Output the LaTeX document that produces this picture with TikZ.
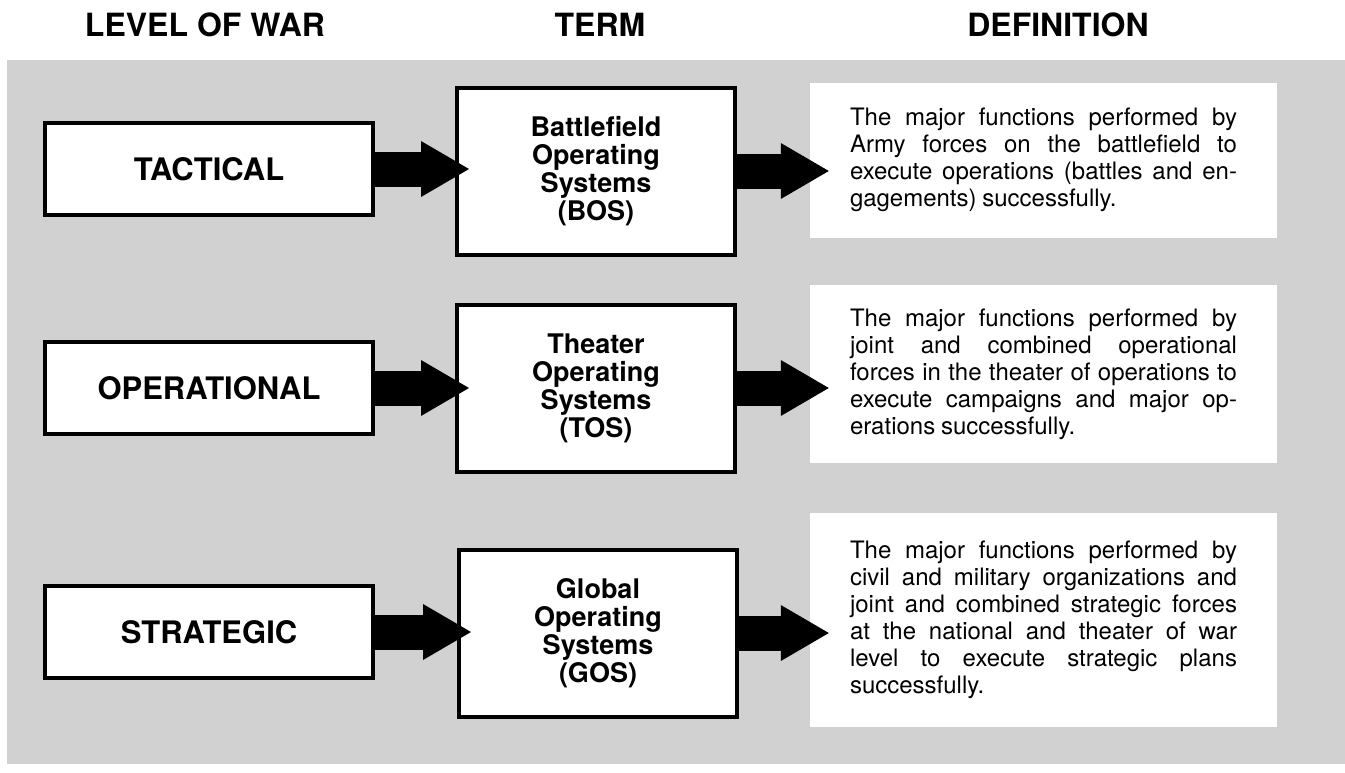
\documentclass[tikz,border=0pt]{standalone}
\usepackage{fontspec}
\setmainfont{TeX Gyre Heros}
\usetikzlibrary{arrows.meta,patterns}

\definecolor{screen}{gray}{0.82}
\tolerance=10000
\hyphenpenalty=10000
\newcommand\defspacing{\spaceskip=0.24em plus 1em minus 0.04em\relax}

\begin{document}
\begin{tikzpicture}[x=1pt, y=-1pt,
    heading/.style={font=\fontsize{32}{34}\selectfont\bfseries},
    levelbox/.style={draw, line width=4pt, fill=white, minimum width=328pt,
        minimum height=92pt, font=\fontsize{31}{33}\selectfont\bfseries},
    termbox/.style={draw, line width=4pt, fill=white, minimum width=278pt,
        minimum height=167pt, align=center, font=\fontsize{27}{28}\selectfont\bfseries},
    defpanel/.style={fill=white, text width=387pt, inner xsep=40pt, inner ysep=0pt,
        align=justify, font=\fontsize{24}{27}\selectfont\defspacing},
    fatarrow/.style={line width=35pt, -{Triangle[length=48pt, width=56pt, line width=0pt]}}]

    \useasboundingbox (0,0) rectangle (1345,772);
    \fill[screen] (7,60) rectangle (1345,764);

    % column headings
    \node[heading] (hlevel) at (205,25) {LEVEL OF WAR};
    \node[heading] (hterm) at (600,25) {TERM};
    \node[heading] (hdef) at (1058,25) {DEFINITION};

    % definitions
    \node[defpanel, minimum height=155pt] (def1) at (1043.5,160) {The major functions performed by\linebreak
        Army forces on the battlefield to\linebreak
        execute operations (battles and en-\linebreak
        gagements) successfully.};
    \node[defpanel, minimum height=178pt] (def2) at (1043.5,374) {The major functions performed by\linebreak
        joint and combined operational\linebreak
        forces in the theater of operations to\linebreak
        execute campaigns and major op-\linebreak
        erations successfully.};
    \node[defpanel, minimum height=214pt] (def3) at (1043.5,620) {The major functions performed by\linebreak
        civil and military organizations and\linebreak
        joint and combined strategic forces\linebreak
        at the national and theater of war\linebreak
        level to execute strategic plans\linebreak
        successfully.};

    % levels and terms
    \node[levelbox] (tac) at (209,169) {TACTICAL};
    \node[levelbox] (opl) at (209,388) {OPERATIONAL};
    \node[levelbox] (stra) at (209,632) {STRATEGIC};

    \node[termbox] (bos) at (596,171) {Battlefield\\Operating\\Systems\\(BOS)};
    \node[termbox] (tos) at (596,388) {Theater\\Operating\\Systems\\(TOS)};
    \node[termbox] (gos) at (598,633) {Global\\Operating\\Systems\\(GOS)};

    \draw[fatarrow, shorten >=-14pt] (tac.east) -- (tac.east -| bos.west);
    \draw[fatarrow, shorten >=-14pt] (opl.east) -- (opl.east -| tos.west);
    \draw[fatarrow, shorten >=-14pt] (stra.east) -- (stra.east -| gos.west);

    \draw[fatarrow, shorten >=-19pt] (bos.east) -- (bos.east -| def1.west);
    \draw[fatarrow, shorten >=-19pt] (tos.east) -- (tos.east -| def2.west);
    \draw[fatarrow, shorten >=-19pt] (gos.east) -- (gos.east -| def3.west);
\end{tikzpicture}
\end{document}
